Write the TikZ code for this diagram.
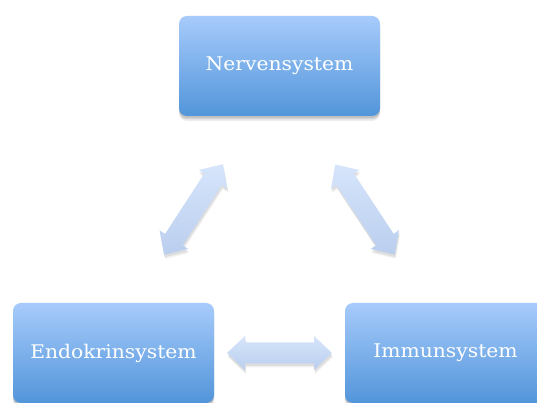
\documentclass[tikz,border=0pt]{standalone}
\usepackage{fontspec}
\setmainfont[FakeStretch=1.08]{DejaVu Serif}
\usetikzlibrary{calc}
\definecolor{boxtop}{RGB}{167,203,251}
\definecolor{boxbot}{RGB}{82,149,218}
\definecolor{arrtop}{RGB}{214,229,251}
\definecolor{arrbot}{RGB}{186,206,238}
\tikzset{
  softshadow/.style={
    preaction={fill=black, fill opacity=0.07, transform canvas={yshift=-5pt}},
    preaction={fill=black, fill opacity=0.09, transform canvas={yshift=-3.5pt}},
    preaction={fill=black, fill opacity=0.10, transform canvas={yshift=-2pt}}},
  sysbox/.style={rectangle, rounded corners=8pt, minimum width=201pt, minimum height=100pt,
    top color=boxtop, bottom color=boxbot, draw=none, text=white,
    font=\fontsize{18.8pt}{21pt}\selectfont, softshadow},
  blockarrow/.style={top color=arrtop, bottom color=arrbot, draw=none,
    preaction={fill=black, fill opacity=0.06, transform canvas={xshift=1pt,yshift=-4pt}},
    preaction={fill=black, fill opacity=0.08, transform canvas={xshift=0.5pt,yshift=-2.5pt}}}
}
% #1 centre, #2 angle, #3 half length
\newcommand\dblblock[3]{%
  \path[blockarrow]
    ($(#1)+(#2:#3)$)
    -- ($(#1)+(#2:#3-18)+(#2+90:17)$)
    -- ($(#1)+(#2:#3-18)+(#2+90:10.5)$)
    -- ($(#1)+(#2+180:#3-18)+(#2+90:10.5)$)
    -- ($(#1)+(#2+180:#3-18)+(#2+90:17)$)
    -- ($(#1)+(#2+180:#3)$)
    -- ($(#1)+(#2+180:#3-18)+(#2-90:17)$)
    -- ($(#1)+(#2+180:#3-18)+(#2-90:10.5)$)
    -- ($(#1)+(#2:#3-18)+(#2-90:10.5)$)
    -- ($(#1)+(#2:#3-18)+(#2-90:17)$)
    -- cycle;}
\begin{document}
\begin{tikzpicture}[x=1pt,y=1pt]
\useasboundingbox (0,0) rectangle (537,403);
\fill[white] (0,0) rectangle (537,403);
\node[sysbox] (nerv) at (279.5,337) {Nervensystem};
\node[sysbox] (endo) at (113.5,50) {Endokrinsystem};
\node[sysbox] (immu) at (445.5,50) {Immunsystem};
\coordinate (cl) at (193.5,193.5);
\coordinate (cr) at (365,193.5);
\coordinate (cb) at ($(endo.east)!0.5!(immu.west)$);
\dblblock{cl}{57}{54}
\dblblock{cr}{123.4}{54}
\dblblock{cb}{0}{52.5}
\end{tikzpicture}
\end{document}
